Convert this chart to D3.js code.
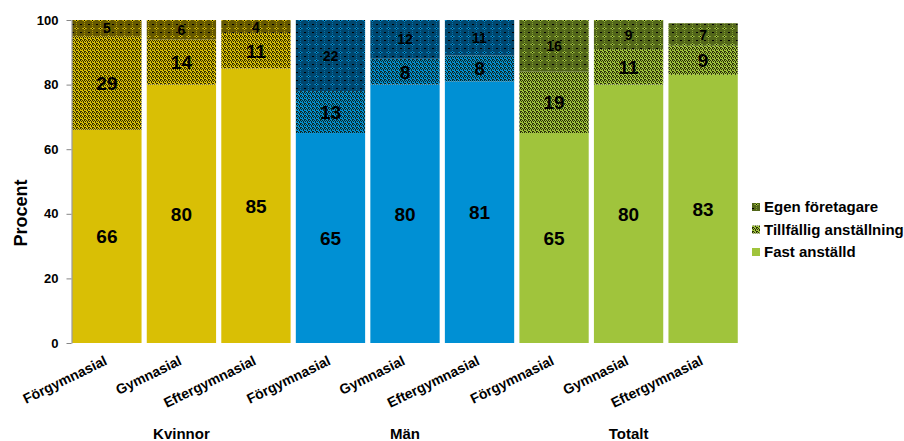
<!DOCTYPE html>
<html>
<head>
<meta charset="utf-8">
<script src="https://cdn.jsdelivr.net/npm/d3@7"></script>
<style>
  html, body { margin: 0; padding: 0; background: #fff; }
  svg { display: block; font-family: Arial, "Liberation Sans", sans-serif; }
</style>
</head>
<body>
<svg id="chart" width="904" height="441"></svg>
<script>
// Education levels, repeated for each group
const levels = ["Förgymnasial", "Gymnasial", "Eftergymnasial"];
const groups = ["Kvinnor", "Män", "Totalt"];

// Share (percent) per employment type, one value per bar (group × level)
const fastAnstalld   = [66, 80, 85, 65, 80, 81, 65, 80, 83];
const tillfallig     = [29, 14, 11, 13, 8, 8, 19, 11, 9];
const egenForetagare = [5, 6, 4, 22, 12, 11, 16, 9, 7];

const seriesNames = ["Fast anställd", "Tillfällig anställning", "Egen företagare"];
const yTicks = [0, 20, 40, 60, 80, 100];

// Base and dark colours per group
const baseColors = ["#d9bf05", "#0090d4", "#a0c43c"];
const darkColors = ["#655800", "#00476f", "#52661a"];

const svg = d3.select("#chart");

const bars = [];
groups.forEach((g, gi) => {
  levels.forEach((l, li) => {
    const i = gi * 3 + li;
    bars.push({ key: g + "|" + l, group: g, gi, level: l,
      values: [fastAnstalld[i], tillfallig[i], egenForetagare[i]] });
  });
});

const x = d3.scaleBand()
  .domain(bars.map(d => d.key))
  .range([70, 740])
  .paddingInner(0.07)
  .paddingOuter(0.03);

const y = d3.scaleLinear().domain([0, 100]).range([343, 20]);

// Fill patterns
const defs = svg.append("defs");
groups.forEach((g, gi) => {
  const base = baseColors[gi], dark = darkColors[gi];
  // Temporary employment: base colour with dense dark checker rows
  const p1 = defs.append("pattern").attr("id", "tmp" + gi)
    .attr("patternUnits", "userSpaceOnUse").attr("width", 4).attr("height", 4);
  p1.append("rect").attr("width", 4).attr("height", 4).attr("fill", base);
  [[0,0],[2,0],[1,1],[3,1],[0,3],[1,3],[3,2]].forEach(([px, py]) =>
    p1.append("rect").attr("x", px).attr("y", py).attr("width", 1).attr("height", 1).attr("fill", "#141400").attr("fill-opacity", 0.85));
  // Self-employed: dark fill with dotted diamonds
  const p2 = defs.append("pattern").attr("id", "own" + gi)
    .attr("patternUnits", "userSpaceOnUse").attr("width", 8).attr("height", 8);
  p2.append("rect").attr("width", 8).attr("height", 8).attr("fill", dark);
  [[0,0],[1,0]].forEach(([px, py]) =>
    p2.append("rect").attr("x", px).attr("y", py).attr("width", 1).attr("height", 1).attr("fill", "#000"));
  [[4,3],[3,4],[5,4],[4,5],[4,4]].forEach(([px, py]) =>
    p2.append("rect").attr("x", px).attr("y", py).attr("width", 1).attr("height", 1).attr("fill", (px + py) % 2 ? base : "#000"));
  [[6,4],[2,4],[4,1],[4,7]].forEach(([px, py]) =>
    p2.append("rect").attr("x", px).attr("y", py).attr("width", 1).attr("height", 1).attr("fill", base).attr("fill-opacity", 0.6));
});

function fillFor(gi, si) {
  if (si === 0) return baseColors[gi];
  if (si === 1) return `url(#tmp${gi})`;
  return `url(#own${gi})`;
}

// Stacked bars
const barG = svg.append("g");
bars.forEach(b => {
  let cum = 0;
  b.values.forEach((v, si) => {
    const y0 = cum, y1 = cum + v;
    cum = y1;
    barG.append("rect")
      .attr("x", x(b.key))
      .attr("width", x.bandwidth())
      .attr("y", y(y1))
      .attr("height", y(y0) - y(y1))
      .attr("fill", fillFor(b.gi, si));
    barG.append("text")
      .attr("x", x(b.key) + x.bandwidth() / 2)
      .attr("y", y((y0 + y1) / 2))
      .attr("dy", "0.36em")
      .attr("text-anchor", "middle")
      .attr("font-weight", "bold")
      .attr("font-size", si === 2 ? 14 : 19)
      .attr("fill", "#000")
      .text(v);
  });
});

// Y axis
const yAxis = svg.append("g")
  .attr("transform", "translate(71.5,0)")
  .call(d3.axisLeft(y).tickValues(yTicks).tickSize(5).tickPadding(8).tickSizeOuter(0));
yAxis.select(".domain").attr("stroke", "#868686");
yAxis.selectAll(".tick line").attr("stroke", "#868686");
yAxis.selectAll(".tick text")
  .attr("font-size", 13).attr("font-weight", "bold").attr("fill", "#000")
  .attr("font-family", "Arial, 'Liberation Sans', sans-serif");

svg.append("text")
  .attr("transform", "translate(27,213) rotate(-90)")
  .attr("text-anchor", "middle")
  .attr("font-size", 18).attr("font-weight", "bold")
  .text("Procent");

// Category labels (rotated)
bars.forEach(b => {
  const cx = x(b.key) + x.bandwidth() / 2 + 1;
  svg.append("text")
    .attr("transform", `translate(${cx},364) rotate(-26)`)
    .attr("text-anchor", "end")
    .attr("font-size", 14).attr("font-weight", "bold")
    .text(b.level);
});

// Group labels
groups.forEach((g, gi) => {
  const mid = bars[gi * 3 + 1];
  svg.append("text")
    .attr("x", x(mid.key) + x.bandwidth() / 2)
    .attr("y", 438.5)
    .attr("text-anchor", "middle")
    .attr("font-size", 15).attr("font-weight", "bold")
    .text(g);
});

// Legend (top to bottom: self-employed, temporary, permanent)
const legendItems = [2, 1, 0];
const legend = svg.append("g").attr("transform", "translate(752,0)");
legendItems.forEach((si, k) => {
  const cy = 207 + k * 22.5;
  legend.append("rect")
    .attr("x", 0).attr("y", cy - 4).attr("width", 8).attr("height", 8)
    .attr("fill", fillFor(2, si));
  legend.append("text")
    .attr("x", 12).attr("y", cy).attr("dy", "0.36em")
    .attr("font-size", 15).attr("font-weight", "bold")
    .text(seriesNames[si]);
});
</script>
</body>
</html>
